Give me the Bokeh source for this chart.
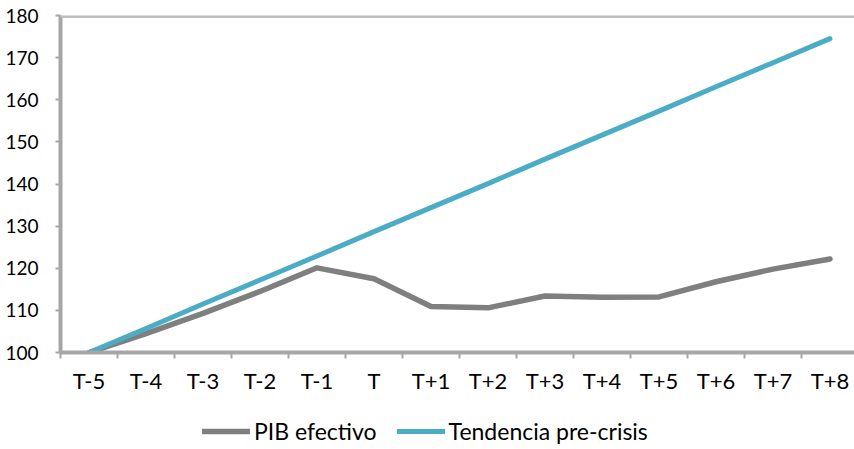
from bokeh.plotting import figure
from bokeh.models import FixedTicker, Span, Legend, LegendItem, ColumnDataSource
from bokeh.layouts import column
from bokeh.embed import file_html
from bokeh.resources import INLINE

categories = ["T-5", "T-4", "T-3", "T-2", "T-1", "T", "T+1", "T+2", "T+3",
              "T+4", "T+5", "T+6", "T+7", "T+8"]
pib_efectivo = [100.0, 104.5, 109.3, 114.5, 120.1, 117.5, 110.9, 110.6, 113.4,
                113.1, 113.2, 116.8, 119.8, 122.2]
tendencia = [100.0, 105.7, 111.5, 117.2, 122.9, 128.7, 134.4, 140.1, 145.9,
             151.6, 157.3, 163.1, 168.8, 174.5]
y_ticks = [100, 110, 120, 130, 140, 150, 160, 170, 180]
series_names = ["PIB efectivo", "Tendencia pre-crisis"]
series_colors = ["#7f7f7f", "#4bacc6"]

FONT = "Lato"
xs = list(range(len(categories)))

p = figure(width=854, height=400, output_backend="svg", toolbar_location=None,
           x_range=(-0.5, 13.43), y_range=(100, 180),
           min_border_left=60, min_border_right=0, min_border_top=15,
           min_border_bottom=48)
p.outline_line_color = None
p.xgrid.grid_line_color = None
p.ygrid.grid_line_color = None

src = ColumnDataSource(dict(x=xs, pib=pib_efectivo, tend=tendencia))
p.line("x", "pib", source=src, line_color=series_colors[0], line_width=5.5,
       line_cap="round", line_join="round")
p.line("x", "tend", source=src, line_color=series_colors[1], line_width=5,
       line_cap="round", line_join="round")

top = Span(location=180, dimension="width", line_color="#bfbfbf", line_width=5)
p.add_layout(top)

xa = p.xaxis[0]
xa.ticker = FixedTicker(ticks=xs, minor_ticks=[i - 0.5 for i in range(len(categories) + 1)])
xa.major_label_overrides = {i: c for i, c in enumerate(categories)}
xa.major_tick_line_color = None
xa.minor_tick_line_color = "#a6a6a6"
xa.minor_tick_line_width = 2
xa.minor_tick_out = 6
xa.minor_tick_in = 0
xa.axis_line_color = "#a6a6a6"
xa.axis_line_width = 4
xa.major_label_text_font = FONT
xa.major_label_text_font_size = "22px"
xa.major_label_text_color = "black"
xa.major_label_standoff = 8

ya = p.yaxis[0]
ya.ticker = FixedTicker(ticks=y_ticks)
ya.minor_tick_line_color = None
ya.major_tick_line_color = "#a6a6a6"
ya.major_tick_line_width = 2
ya.major_tick_out = 5
ya.major_tick_in = 0
ya.axis_line_color = "#a6a6a6"
ya.axis_line_width = 4
ya.major_label_text_font = FONT
ya.major_label_text_font_size = "19px"
ya.major_label_text_color = "black"
ya.major_label_standoff = 17

# legend strip (series drawn off-range so only their legend swatches show)
lg = figure(width=854, height=49, output_backend="svg", toolbar_location=None,
            x_range=(0, 1), y_range=(0, 1), min_border=0)
lg.axis.visible = False
lg.grid.visible = False
lg.outline_line_color = None
e1 = lg.line("x", "pib", source=src, line_color=series_colors[0], line_width=5.5,
             line_cap="round")
e2 = lg.line("x", "tend", source=src, line_color=series_colors[1], line_width=5,
             line_cap="round")
legend = Legend(items=[LegendItem(label=series_names[0], renderers=[e1]),
                       LegendItem(label=series_names[1], renderers=[e2])],
                orientation="horizontal", location=(142, 4),
                label_text_font=FONT, label_text_font_size="23px",
                label_text_color="black", glyph_width=48, glyph_height=22,
                label_standoff=4, spacing=20, border_line_color=None,
                background_fill_alpha=0, padding=0, margin=0)
lg.add_layout(legend)

open("out.html", "w").write(file_html(column(p, lg, spacing=0), INLINE))
